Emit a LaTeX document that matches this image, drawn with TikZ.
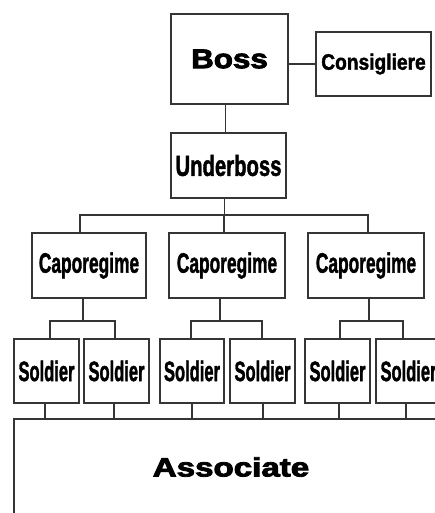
\documentclass[tikz,border=0pt]{standalone}
\usepackage{fontspec}
\usepackage{graphicx}
\setmainfont{Liberation Sans}
\newfontfamily\condfont{Liberation Sans}[BoldFeatures={FakeBold=1.8}]
\newfontfamily\heavyfont{Liberation Sans}[BoldFeatures={FakeBold=3}]
\definecolor{lc}{HTML}{353535}
\newcommand{\cond}[3]{\scalebox{#2}[1]{\condfont\bfseries\fontsize{#1}{#1}\selectfont #3}}
\newcommand{\heavy}[3]{\scalebox{#2}[1]{\heavyfont\bfseries\fontsize{#1}{#1}\selectfont #3}}
\begin{document}
\begin{tikzpicture}[x=1pt,y=-1pt,
  box/.style={draw=lc, line width=1.9pt, rectangle, inner sep=0pt, align=center, text=black},
  conn/.style={draw=lc, line width=1.8pt}]
\useasboundingbox (0,0) rectangle (435,513);
\clip (0,0) rectangle (435,513);
\fill[white] (0,0) rectangle (435,513);
% top
\node[box, minimum width=117pt, minimum height=90pt] (boss) at (229.5,59) {\heavy{27}{1.16}{Boss}};
\node[box, minimum width=115pt, minimum height=64pt] (cons) at (373.5,64) {\cond{22.3}{0.86}{Consigliere}};
\node[box, minimum width=115pt, minimum height=65pt] (ub) at (228.5,165.5) {\cond{29}{0.7}{Underboss}};
% caporegimes
\node[box, minimum width=114pt, minimum height=65pt] (c1) at (89,265.5) {\cond{28}{0.62}{Caporegime}};
\node[box, minimum width=116pt, minimum height=65pt] (c2) at (227,265.5) {\cond{28}{0.62}{Caporegime}};
\node[box, minimum width=116pt, minimum height=65pt] (c3) at (366,265.5) {\cond{28}{0.62}{Caporegime}};
% soldiers
\node[box, minimum width=65pt, minimum height=64pt] (s1) at (46.5,371) {\cond{28}{0.59}{Soldier}};
\node[box, minimum width=65pt, minimum height=64pt] (s2) at (116.5,371) {\cond{28}{0.59}{Soldier}};
\node[box, minimum width=64pt, minimum height=64pt] (s3) at (192,371) {\cond{28}{0.59}{Soldier}};
\node[box, minimum width=65pt, minimum height=64pt] (s4) at (262.5,371) {\cond{28}{0.59}{Soldier}};
\node[box, minimum width=65pt, minimum height=64pt] (s5) at (337.5,371) {\cond{28}{0.59}{Soldier}};
\node[box, minimum width=65pt, minimum height=64pt] (s6) at (408.5,371) {\cond{28}{0.59}{Soldier}};
% associate
\node[box, minimum width=434pt, minimum height=96pt] (as) at (231,467) {\heavy{26.5}{1.25}{Associate}};
% bus levels
\coordinate (busA) at (0,215);
\coordinate (bus1) at (0,321);
% connectors
\draw[conn] (cons.west) -- (cons.west -| boss.east);
\draw[conn] ([xshift=-4pt]boss.south) -- ([xshift=-4pt]boss.south |- ub.north);
\draw[conn] ([xshift=-4pt]ub.south) -- ([xshift=-4pt]ub.south |- busA);
\draw[conn] ([xshift=-9pt]c1.north) -- ([xshift=-9pt]c1.north |- busA) -- ([xshift=2pt]c3.north |- busA) -- ([xshift=2pt]c3.north);
\draw[conn] ([xshift=-3pt]c2.north) -- ([xshift=-3pt]c2.north |- busA);
% cap 1
\draw[conn] ([xshift=-6pt]c1.south) -- ([xshift=-6pt]c1.south |- bus1);
\draw[conn] ([xshift=3.5pt]s1.north) -- ([xshift=3.5pt]s1.north |- bus1) -- ([xshift=-1.5pt]s2.north |- bus1) -- ([xshift=-1.5pt]s2.north);
% cap 2
\draw[conn] ([xshift=-7pt]c2.south) -- ([xshift=-7pt]c2.south |- bus1);
\draw[conn] ([xshift=-1pt]s3.north) -- ([xshift=-1pt]s3.north |- bus1) -- ([xshift=-0.5pt]s4.north |- bus1) -- ([xshift=-0.5pt]s4.north);
% cap 3
\draw[conn] ([xshift=3pt]c3.south) -- ([xshift=3pt]c3.south |- bus1);
\draw[conn] ([xshift=2.5pt]s5.north) -- ([xshift=2.5pt]s5.north |- bus1) -- ([xshift=-5.5pt]s6.north |- bus1) -- ([xshift=-5.5pt]s6.north);
% soldiers to associate
\draw[conn] ([xshift=-1.5pt]s1.south) -- ([xshift=-1.5pt]s1.south |- as.north);
\draw[conn] ([xshift=-2.5pt]s2.south) -- ([xshift=-2.5pt]s2.south |- as.north);
\draw[conn] (s3.south) -- (s3.south |- as.north);
\draw[conn] ([xshift=0.5pt]s4.south) -- ([xshift=0.5pt]s4.south |- as.north);
\draw[conn] ([xshift=1.5pt]s5.south) -- ([xshift=1.5pt]s5.south |- as.north);
\draw[conn] ([xshift=-2.5pt]s6.south) -- ([xshift=-2.5pt]s6.south |- as.north);
\end{tikzpicture}
\end{document}
